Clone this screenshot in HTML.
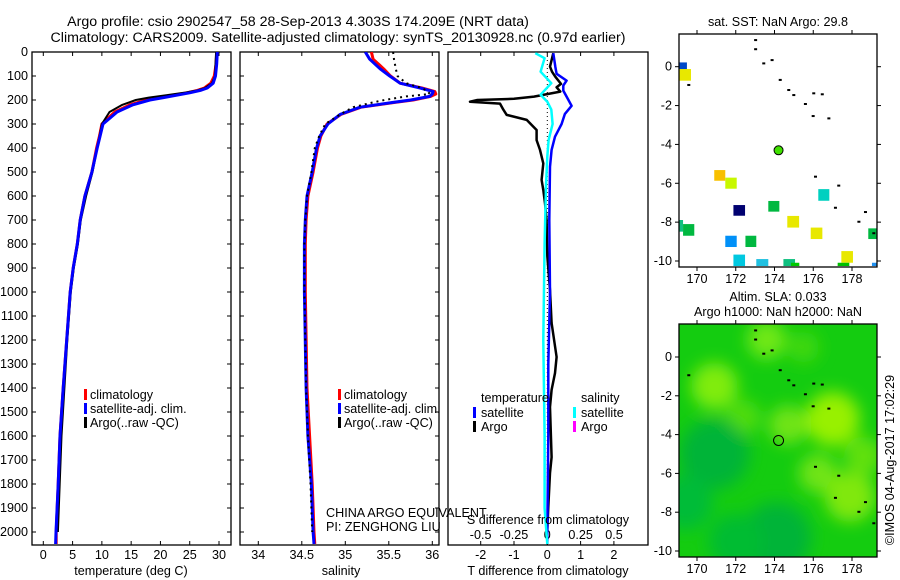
<!DOCTYPE html>
<html><head><meta charset="utf-8"><style>
body{margin:0;background:#fff;}
svg{display:block;font-family:"Liberation Sans",sans-serif;}
text{fill:#000;}
</style></head><body>
<svg id="fig" width="900" height="580" viewBox="0 0 900 580">
<defs><filter id="blur" x="-20%" y="-20%" width="140%" height="140%"><feGaussianBlur stdDeviation="8"/></filter>
<clipPath id="clipSla"><rect x="679" y="324" width="198" height="233"/></clipPath>
<clipPath id="clipSst"><rect x="679" y="34" width="198" height="233"/></clipPath>
<clipPath id="clipP1"><rect x="32" y="52" width="199" height="493"/></clipPath>
<clipPath id="clipP2"><rect x="240" y="52" width="199" height="493"/></clipPath>
<clipPath id="clipP3"><rect x="448" y="52" width="200" height="493"/></clipPath>
</defs>
<text x="298" y="26" font-size="14.2" text-anchor="middle">Argo profile: csio 2902547_58 28-Sep-2013 4.303S 174.209E (NRT data)</text>
<text x="338" y="42" font-size="14.2" text-anchor="middle">Climatology: CARS2009. Satellite-adjusted climatology: synTS_20130928.nc (0.97d earlier)</text>
<text x="778" y="26" font-size="12.6" text-anchor="middle">sat. SST: NaN Argo: 29.8</text>
<text x="778" y="301" font-size="12.6" text-anchor="middle">Altim. SLA: 0.033</text>
<text x="778" y="316" font-size="12.6" text-anchor="middle">Argo h1000: NaN h2000: NaN</text>
<text transform="translate(894,460) rotate(-90)" font-size="12.6" text-anchor="middle">©IMOS 04-Aug-2017 17:02:29</text>
<g id="g"></g>
</svg>
<script>
// ---- Temperature panel data ----
const tDepths = [0,50,100,130,150,160,170,180,190,200,220,250,300,350,400,500,600,700,800,900,1000,1200,1400,1600,1800,2000,2050];
const tClim = [29.6,29.5,29.2,28.6,27.5,26.3,24.5,22.3,20.0,17.6,14.8,12.2,10.0,9.6,9.1,8.3,7.1,6.3,5.8,5.1,4.6,4.0,3.4,2.85,2.55,2.2,2.2];
const tSat = [29.7,29.6,29.4,29.0,28.0,26.8,25.0,22.8,20.5,18.2,15.3,12.6,10.2,9.7,9.2,8.3,7.1,6.3,5.8,5.1,4.6,4.0,3.4,2.85,2.55,2.17,2.1];
const tArgo = [29.5,29.4,29.3,28.8,27.6,26.3,24.0,21.0,18.0,15.8,13.5,11.3,10.0,9.6,9.2,8.4,7.3,6.4,5.9,5.2,4.7,4.1,3.6,3.1,2.8,2.5,null];
const tTicks = [0,5,10,15,20,25,30];
// ---- Salinity panel data ----
const sDepths = [0,30,70,100,130,150,165,175,185,200,210,230,260,300,350,400,500,600,700,800,1000,1400,1600,1800,2000,2050];
const sClim = [35.30,35.32,35.44,35.52,35.63,35.88,36.03,36.04,35.98,35.78,35.57,35.18,34.95,34.79,34.72,34.68,34.63,34.57,34.55,34.54,34.54,34.56,34.59,34.62,34.64,34.65];
const sSat = [35.23,35.28,35.40,35.51,35.63,35.86,36.01,36.0,35.97,35.75,35.55,35.17,34.94,34.80,34.71,34.67,34.62,34.56,34.54,34.53,34.53,34.55,34.57,34.61,34.63,34.64];
const sArgo = [35.55,35.56,35.58,35.60,35.70,35.88,35.95,35.97,35.70,35.45,35.32,35.09,34.94,34.77,34.70,34.65,34.61,34.56,34.54,34.53,34.53,34.55,34.57,34.60,34.62,null];
const sTicks = [34,34.5,35,35.5,36];
// ---- Difference panel data ----
const dArgoDepths = [5,61,82,103,133,147,165,186,195,200,207,215,240,262,283,325,367,408,464,533,575,630,700,850,992,1129,1271,1338,1408,1479,1688,1754,1896,1992];
const dArgoT = [0.18,0.08,0.14,0.24,0.41,0.28,0.39,-0.4,-1.0,-2.1,-2.32,-1.42,-1.32,-1.22,-0.62,-0.32,-0.32,-0.22,-0.12,-0.17,-0.12,-0.07,-0.02,0.0,0.08,0.13,0.28,0.23,0.13,0.08,0.13,0.08,0.03,0.0];
const dSatDepths = [5,61,91,119,140,161,186,224,258,300,353,408,478,700,1000,1300,1600,2000,2050];
const dSatT = [0.18,0.24,0.28,0.58,0.48,0.48,0.58,0.73,0.53,0.43,0.23,0.13,0.08,0.06,0.08,0.03,0.03,0.0,0.0];
const dSalDepths = [5,26,82,130,178,207,240,300,367,436,560,800,1200,1600,1900,2050];
const dSatS = [-0.09,-0.02,-0.05,0.03,-0.05,0,0.03,0.04,0.01,0,-0.01,-0.02,-0.03,-0.02,-0.02,0.0];
const dTTicks = [-2,-1,0,1,2];
const dSTicks = [-0.5,-0.25,0,0.25,0.5];
const depthTicks = [0,100,200,300,400,500,600,700,800,900,1000,1100,1200,1300,1400,1500,1600,1700,1800,1900,2000];
// ---- SST map data: [lon1, lon2, latTop, latBottom, colour] ----
const sstCells = [
 [169.07,169.48,0.22,-0.12,'#0048c8'],[169.07,169.48,-0.12,-0.29,'#00c040'],[169.07,169.69,-0.12,-0.72,'#e8e800'],
 [170.89,171.46,-5.32,-5.87,'#f8c000'],[171.46,172.05,-5.71,-6.28,'#c8f800'],[171.88,172.48,-7.12,-7.67,'#000070'],
 [173.68,174.25,-6.91,-7.46,'#00b840'],[176.26,176.83,-6.30,-6.90,'#00d0c0'],[174.66,175.27,-7.68,-8.28,'#e8e800'],
 [169.07,169.28,-7.89,-8.49,'#10c080'],[169.28,169.86,-8.10,-8.70,'#00b840'],[171.46,172.05,-8.70,-9.28,'#0090f8'],
 [172.50,173.06,-8.70,-9.28,'#00b840'],[175.87,176.47,-8.28,-8.87,'#e8e800'],[178.84,179.27,-8.32,-8.87,'#00b840'],
 [171.88,172.48,-9.67,-10.26,'#00c8e0'],[173.06,173.68,-9.90,-10.26,'#20c0e0'],[174.46,175.06,-9.90,-10.26,'#10c080'],
 [174.85,175.28,-10.09,-10.26,'#00c800'],[177.45,178.05,-9.49,-10.09,'#e8e800'],[177.26,177.86,-10.09,-10.26,'#00c000'],
 [179.03,179.27,-10.09,-10.26,'#2090f0']];
const coastLon = [173.0,173.0,173.42,173.85,174.27,174.71,174.97,176.0,176.44,175.57,175.97,176.78,169.55,176.09,177.29,177.12,178.67,178.33,179.1];
const coastLat = [1.37,0.9,0.17,0.34,-0.68,-1.2,-1.46,-1.37,-1.42,-1.92,-2.54,-2.66,-0.94,-5.66,-6.12,-7.26,-7.48,-7.98,-8.57];
const argoLon = 174.209, argoLat = -4.303;
// ---- SLA map blobs: lon, lat, radius(deg), colour ----
const slaLon = [173.6,170.9,172.4,174.7,177.0,176.25,177.9,178.6,175.5,170.9,174.1,169.4,172.0];
const slaLat = [0.9,-1.5,-3.1,-3.5,-3.2,-6.0,-7.2,-5.1,0.5,-5.0,-9.3,-7.5,-9.5];
const slaR = [1.0,1.2,0.9,1.0,1.4,1.0,1.3,1.0,0.8,1.8,1.8,1.4,1.4];
const slaCol = ['#70e818','#80ec10','#50dc10','#70e418','#98f000','#70e418','#80e810','#60e010','#40d810','#00b438','#00b438','#00bc38','#00bc30'];

const NS='http://www.w3.org/2000/svg';
const G=document.getElementById('g');
const FS=12.6;
function mk(tag,attrs,parent,text){const e=document.createElementNS(NS,tag);for(const k in attrs)e.setAttribute(k,attrs[k]);if(text!==undefined)e.textContent=text;(parent||G).appendChild(e);return e;}
const yD=d=>52+d*0.24;
const xT=t=>43.3+t*5.857;
const xS=s=>258.3+(s-34)*87;
const xDT=v=>547.3+v*33.3;
const xDS=v=>547.3+v*133.3;
const lonX=l=>697+(l-170)*19.375;
const latY1=l=>66.7-l*19.43;
const latY2=l=>357-l*19.4;

function frame(x0,x1,name){
  const f=mk('rect',{x:x0,y:52,width:x1-x0,height:493,fill:'none',stroke:'#000','stroke-width':1.3});
  
  
  depthTicks.forEach(d=>{
    mk('line',{x1:x0,x2:x0+4,y1:yD(d),y2:yD(d),stroke:'#000'});
    mk('line',{x1:x1-4,x2:x1,y1:yD(d),y2:yD(d),stroke:'#000'});
  });
}
function xticks(xs,fn,x0,labY,fmt,name){
  xs.forEach(v=>{
    const x=fn(v);
    mk('line',{x1:x,x2:x,y1:52,y2:56,stroke:'#000'});
    mk('line',{x1:x,x2:x,y1:541,y2:545,stroke:'#000'});
    if(labY){const t=mk('text',{x:x,y:labY,'font-size':FS,'text-anchor':'middle'},G,fmt(v));
      
      }
  });
}
function line(xs,ds,fx,color,w,clip,name,dash){
  let p='';let started=false;
  xs.forEach((v,i)=>{if(v===null||v===undefined)return;p+=(started?'L':'M')+fx(v).toFixed(1)+','+yD(ds[i]).toFixed(1);started=true;});
  const a={d:p,fill:'none',stroke:color,'stroke-width':w,'clip-path':'url(#'+clip+')','stroke-linejoin':'round'};
  if(dash)a['stroke-dasharray']=dash;
  const e=mk('path',a);
  
  
}
depthTicks.forEach(d=>{const t=mk('text',{x:28,y:yD(d)+4,'font-size':FS,'text-anchor':'end'},G,String(d));
  
  });
// Panel 1
frame(32,231,'temperature-panel-frame');
xticks(tTicks,xT,32,559,v=>String(v),'temperature-tick-label');
line(tClim,tDepths,xT,'#ff0000',3,'clipP1','temperature-climatology-line');
line(tArgo,tDepths,xT,'#000',2,'clipP1','temperature-argo-line');
line(tSat,tDepths,xT,'#0000ff',3,'clipP1','temperature-satellite-line');
let t=mk('text',{x:131,y:575,'font-size':FS,'text-anchor':'middle'},G,'temperature (deg C)');


// Panel 2
frame(240,439,'salinity-panel-frame');
xticks(sTicks,xS,240,559,v=>String(v),'salinity-tick-label');
line(sClim,sDepths,xS,'#ff0000',3,'clipP2','salinity-climatology-line');
line(sSat,sDepths,xS,'#0000ff',3,'clipP2','salinity-satellite-line');
line(sArgo,sDepths,xS,'#000',2,'clipP2','salinity-argo-line','2,4');
t=mk('text',{x:341,y:575,'font-size':FS,'text-anchor':'middle'},G,'salinity');


[[84,90],[338,344]].forEach(([mx,tx],k)=>{
  [['#ff0000','climatology'],['#0000ff','satellite-adj. clim.'],['#000','Argo(..raw -QC)']].forEach(([c,l],i)=>{
    const y=398+i*14;
    mk('rect',{x:mx,y:y-9,width:3,height:11,fill:c});
    const e=mk('text',{x:tx,y:y+1,'font-size':FS},G,l);
    
    
  });
});
t=mk('text',{x:326,y:517,'font-size':FS},G,'CHINA ARGO EQUIVALENT');


t=mk('text',{x:326,y:531,'font-size':FS},G,'PI: ZENGHONG LIU');


// Panel 3
const f3=mk('rect',{x:448,y:52,width:200,height:493,fill:'none',stroke:'#000','stroke-width':1.3});


xticks(dTTicks,xDT,448,559,v=>String(v),'t-difference-tick-label');
dSTicks.forEach(v=>{const e=mk('text',{x:xDS(v),y:539,'font-size':FS,'text-anchor':'middle'},G,String(v));
  
  });
mk('line',{x1:xDT(0),x2:xDT(0),y1:52,y2:545,stroke:'#000','stroke-width':1,'stroke-dasharray':'1,3'});
line(dArgoT,dArgoDepths,xDT,'#000',2.5,'clipP3','t-difference-argo-line');
line(dSatT,dSatDepths,xDT,'#0000ff',2.5,'clipP3','t-difference-satellite-line');
line(dSatS,dSalDepths,xDS,'#00ffff',2.5,'clipP3','s-difference-satellite-line');
t=mk('text',{x:548,y:524,'font-size':FS,'text-anchor':'middle'},G,'S difference from climatology');


t=mk('text',{x:548,y:575,'font-size':FS,'text-anchor':'middle'},G,'T difference from climatology');


[[481,'temperature'],[581,'salinity']].forEach(([x,l])=>{const e=mk('text',{x:x,y:402,'font-size':FS},G,l);
  
  });
[[473,'#0000ff','satellite',0],[473,'#000','Argo',1],[573,'#00ffff','satellite',0],[573,'#ff00ff','Argo',1]].forEach(([x,c,l,i])=>{
  const y=416+i*14;
  mk('rect',{x:x,y:y-9,width:3,height:11,fill:c});
  const e=mk('text',{x:x+8,y:y+1,'font-size':FS},G,l);
  
  
});
function mapAxes(top,bot,latY,name){
  const r=mk('rect',{x:679,y:top,width:198,height:bot-top,fill:'none',stroke:'#000','stroke-width':1.3});
  
  
  [170,172,174,176,178].forEach(l=>{const x=lonX(l);
    mk('line',{x1:x,x2:x,y1:top,y2:top-4,stroke:'#000'});
    mk('line',{x1:x,x2:x,y1:bot,y2:bot+4,stroke:'#000'});
    const e=mk('text',{x:x,y:bot+16,'font-size':FS,'text-anchor':'middle'},G,String(l));
    
    });
  [0,-2,-4,-6,-8,-10].forEach(l=>{const y=latY(l);
    mk('line',{x1:679,x2:675,y1:y,y2:y,stroke:'#000'});
    mk('line',{x1:877,x2:881,y1:y,y2:y,stroke:'#000'});
    const e=mk('text',{x:672,y:y+4,'font-size':FS,'text-anchor':'end'},G,String(l));
    
    });
}
function coast(latY,clip){
  coastLon.forEach((l,i)=>{const x=lonX(l),y=latY(coastLat[i]);
    const c=mk('rect',{x:x-1,y:y-1,width:3,height:2,fill:'#000','clip-path':'url(#'+clip+')'});
    
    });
}
const gs=mk('g',{'clip-path':'url(#clipSst)'});
sstCells.forEach(c=>{const r=mk('rect',{x:lonX(c[0]),y:latY1(c[2]),width:lonX(c[1])-lonX(c[0]),height:latY1(c[3])-latY1(c[2]),fill:c[4]},gs);
  
  });
coast(latY1,'clipSst');
const dot=mk('circle',{cx:lonX(argoLon),cy:latY1(argoLat),r:4.5,fill:'#40e000',stroke:'#000','stroke-width':1});


mapAxes(34,267,latY1,'sst-map-frame');
const gb=mk('g',{'clip-path':'url(#clipSla)'});
mk('rect',{x:679,y:324,width:198,height:233,fill:'#14cc10'},gb);
const gbb=mk('g',{filter:'url(#blur)'},gb);
slaLon.forEach((l,i)=>{const e=mk('ellipse',{cx:lonX(l),cy:latY2(slaLat[i]),rx:slaR[i]*19.4,ry:slaR[i]*19.4,fill:slaCol[i]},gbb);
  
  });
coast(latY2,'clipSla');
const ring=mk('circle',{cx:lonX(argoLon),cy:latY2(argoLat),r:5,fill:'none',stroke:'#000','stroke-width':1});


mapAxes(324,557,latY2,'sla-map-frame');
</script>
</body></html>
